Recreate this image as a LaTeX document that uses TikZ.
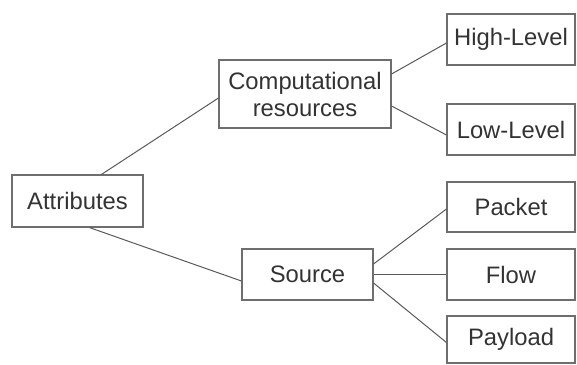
\documentclass[tikz,border=0pt]{standalone}
\usepackage{fontspec}
\setmainfont{Liberation Sans}
\definecolor{boxgray}{HTML}{6E6E6E}
\definecolor{linegray}{HTML}{5A5A5A}
\definecolor{txt}{HTML}{333333}
\begin{document}
\begin{tikzpicture}[x=1pt,y=-1pt,
  box/.style={draw=boxgray,line width=1.1pt,rectangle,inner sep=0pt,align=center,
    text=txt,font=\fontsize{23.8}{27}\selectfont},
  link/.style={draw=linegray,line width=1pt}]
\useasboundingbox[fill=white] (0,0) rectangle (577,364);
\node[box,minimum width=131pt,minimum height=52pt] (attr) at (77.5,201) {Attributes};
\node[box,minimum width=172pt,minimum height=68pt] (comp) at (305,94) {Computational\\resources};
\node[box,minimum width=131pt,minimum height=51pt] (src) at (307.5,274.5) {Source};
\node[box,minimum width=128pt,minimum height=51pt] (high) at (511,39.5) {High-Level};
\node[box,minimum width=128pt,minimum height=51pt] (low) at (511,129.5) {Low-Level};
\node[box,minimum width=128pt,minimum height=50pt] (packet) at (511,207) {Packet};
\node[box,minimum width=128pt,minimum height=51pt] (flow) at (511,274.5) {Flow};
\node[box,minimum width=128pt,minimum height=47pt] (payload) at (511,339.5) {Payload};
\draw[link] ([xshift=90pt]attr.north west) -- ([yshift=-4pt]comp.west);
\draw[link] ([xshift=78pt]attr.south west) -- ([yshift=-6.5pt]src.west);
\draw[link] ([yshift=20pt]comp.east) -- ([yshift=-3.5pt]high.west);
\draw[link] ([yshift=-12pt]comp.east) -- ([yshift=-5.5pt]low.west);
\draw[link] ([yshift=10.5pt]src.east) -- ([yshift=-2pt]packet.west);
\draw[link] (src.east) -- (flow.west);
\draw[link] ([yshift=-8.5pt]src.east) -- ([yshift=-3pt]payload.west);
\end{tikzpicture}
\end{document}
